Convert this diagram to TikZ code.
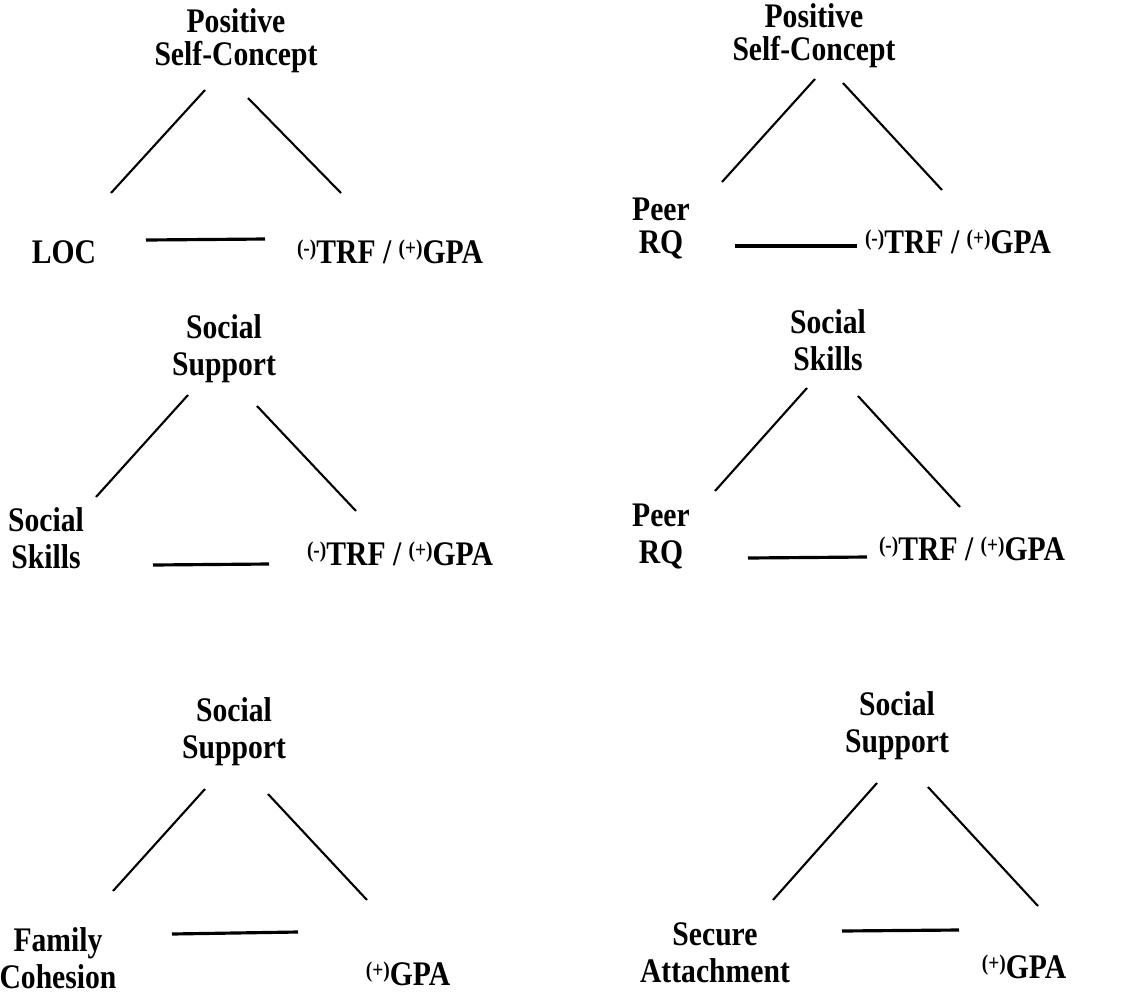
\documentclass[tikz,border=0pt]{standalone}
\usepackage{fontspec}
\setmainfont{Liberation Serif}
\newcommand{\supmark}[1]{\raisebox{2.0pt}{\fontsize{6.4}{7}\selectfont(#1)}}
\begin{document}
\begin{tikzpicture}[x=0.01cm,y=-0.01cm,
  lbl/.style={font=\bfseries\fontsize{9.8}{10.3}\selectfont, align=center, inner sep=0pt, anchor=base, xscale=0.86},
  link/.style={line width=0.6pt},
  hlink/.style={line width=0.9pt}]
\useasboundingbox (0,0) rectangle (1132,993);

% ---------- Panel 1 ----------
\node[lbl] (p1top) at (236,65) {Positive\\[-1pt]Self-Concept};
\node[lbl] (p1l) at (64,263) {LOC};
\node[lbl] (p1r) at (390,263) {\supmark{-}TRF / \supmark{+}GPA};
\coordinate (p1a) at (205,90);  \coordinate (p1b) at (111,193);
\coordinate (p1c) at (248,98);  \coordinate (p1d) at (341,193);
\coordinate (p1e) at (146,240); \coordinate (p1f) at (265,239);
\draw[link] (p1a) -- (p1b);
\draw[link] (p1c) -- (p1d);
\draw[hlink] (p1e) -- (p1f);

% ---------- Panel 2 ----------
\node[lbl] (p2top) at (814,60) {Positive\\[-1pt]Self-Concept};
\node[lbl] (p2l) at (661,253) {Peer\\[-1pt]RQ};
\node[lbl] (p2r) at (958,253) {\supmark{-}TRF / \supmark{+}GPA};
\coordinate (p2a) at (815,79);  \coordinate (p2b) at (722,182);
\coordinate (p2c) at (843,83);  \coordinate (p2d) at (942,190);
\coordinate (p2e) at (735,246); \coordinate (p2f) at (857,246);
\draw[link] (p2a) -- (p2b);
\draw[link] (p2c) -- (p2d);
\draw[hlink] (p2e) -- (p2f);

% ---------- Panel 3 ----------
\node[lbl] (p3top) at (224,375) {Social\\Support};
\node[lbl] (p3l) at (46,568) {Social\\Skills};
\node[lbl] (p3r) at (400,565) {\supmark{-}TRF / \supmark{+}GPA};
\coordinate (p3a) at (188,395); \coordinate (p3b) at (96,497);
\coordinate (p3c) at (257,406); \coordinate (p3d) at (356,511);
\coordinate (p3e) at (153,565); \coordinate (p3f) at (269,564);
\draw[link] (p3a) -- (p3b);
\draw[link] (p3c) -- (p3d);
\draw[hlink] (p3e) -- (p3f);

% ---------- Panel 4 ----------
\node[lbl] (p4top) at (828,370) {Social\\Skills};
\node[lbl] (p4l) at (661,563) {Peer\\RQ};
\node[lbl] (p4r) at (972,560) {\supmark{-}TRF / \supmark{+}GPA};
\coordinate (p4a) at (807,388); \coordinate (p4b) at (715,491);
\coordinate (p4c) at (858,396); \coordinate (p4d) at (960,507);
\coordinate (p4e) at (748,558); \coordinate (p4f) at (867,557);
\draw[link] (p4a) -- (p4b);
\draw[link] (p4c) -- (p4d);
\draw[hlink] (p4e) -- (p4f);

% ---------- Panel 5 ----------
\node[lbl] (p5top) at (234,758) {Social\\Support};
\node[lbl] (p5l) at (58,988) {Family\\Cohesion};
\node[lbl] (p5r) at (408,985) {\supmark{+}GPA};
\coordinate (p5a) at (205,789); \coordinate (p5b) at (113,891);
\coordinate (p5c) at (268,794); \coordinate (p5d) at (367,900);
\coordinate (p5e) at (172,934); \coordinate (p5f) at (298,932);
\draw[link] (p5a) -- (p5b);
\draw[link] (p5c) -- (p5d);
\draw[hlink] (p5e) -- (p5f);

% ---------- Panel 6 ----------
\node[lbl] (p6top) at (897,752) {Social\\Support};
\node[lbl] (p6l) at (715,982) {Secure\\Attachment};
\node[lbl] (p6r) at (1024,978) {\supmark{+}GPA};
\coordinate (p6a) at (877,783); \coordinate (p6b) at (773,900);
\coordinate (p6c) at (928,787); \coordinate (p6d) at (1038,906);
\coordinate (p6e) at (842,931); \coordinate (p6f) at (959,930);
\draw[link] (p6a) -- (p6b);
\draw[link] (p6c) -- (p6d);
\draw[hlink] (p6e) -- (p6f);
\end{tikzpicture}
\end{document}
